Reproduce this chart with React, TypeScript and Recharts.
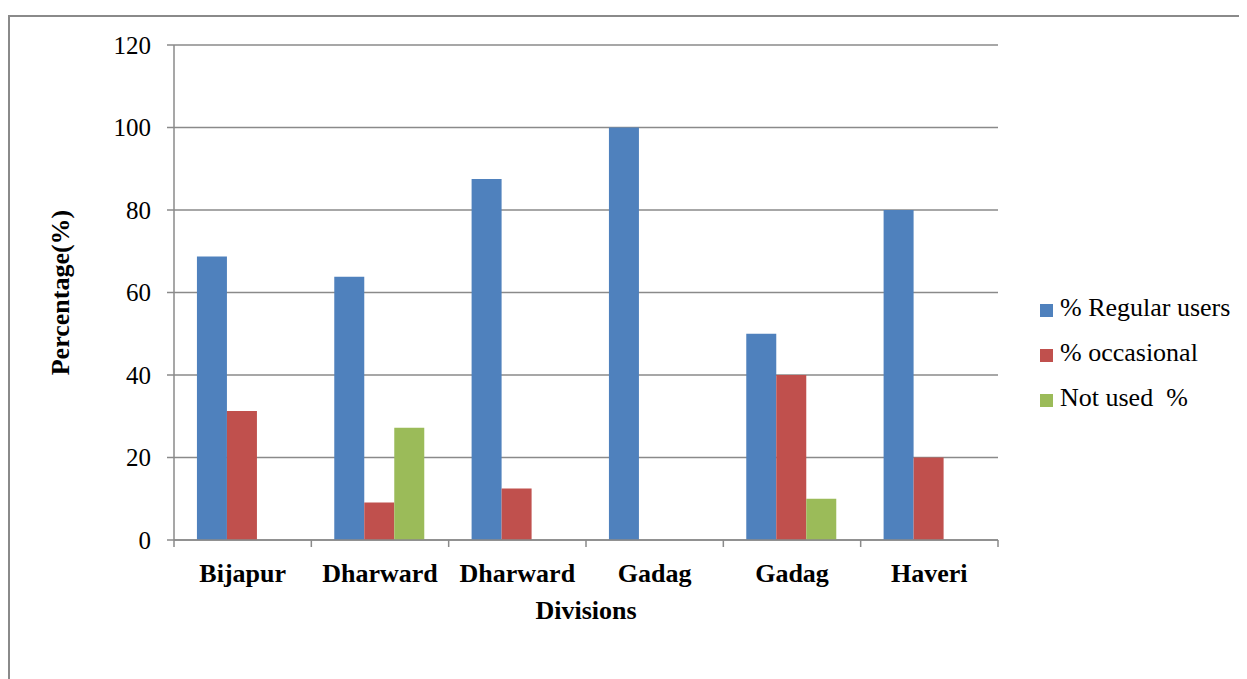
import { BarChart, Bar, XAxis, YAxis, CartesianGrid, Legend } from 'recharts'

const divisions = ['Bijapur', 'Dharward', 'Dharward', 'Gadag', 'Gadag', 'Haveri']
const regularUsers = [68.7, 63.8, 87.5, 100, 50, 80]
const occasional = [31.3, 9.1, 12.5, 0, 40, 20]
const notUsed = [0, 27.2, 0, 0, 10, 0]
const yTicks = [0, 20, 40, 60, 80, 100, 120]

const data = divisions.map((name, i) => ({
  name,
  regular: regularUsers[i],
  occasional: occasional[i],
  notUsed: notUsed[i],
}))

const W = 1239
const H = 671
const MARGIN = { top: 37, right: 249, bottom: 79, left: 106 }
const Y_AXIS_W = 60
const PLOT_W = W - MARGIN.left - MARGIN.right - Y_AXIS_W
const BAND = PLOT_W / divisions.length
const GRAY = '#8a8a8a'
const FONT = '"Liberation Serif", "Times New Roman", serif'

function DivisionTick(props: any) {
  const { x, y, payload, index } = props
  const top = y - 7
  return (
    <g>
      <line x1={x - BAND / 2} x2={x - BAND / 2} y1={top} y2={top + 7} stroke={GRAY} strokeWidth={1.5} />
      {index === divisions.length - 1 && (
        <line x1={x + BAND / 2} x2={x + BAND / 2} y1={top} y2={top + 7} stroke={GRAY} strokeWidth={1.5} />
      )}
      <text x={x} y={top + 33} dy="0.35em" textAnchor="middle" fontWeight="bold" fontSize={26}
        fontFamily={FONT} fill="#000">
        {payload.value}
      </text>
    </g>
  )
}

export default function App() {
  return (
    <div style={{ position: 'relative', width: W, height: H, overflow: 'hidden', fontFamily: FONT }}>
      <div
        style={{
          position: 'absolute', top: 7, left: 0, width: 1300, height: 720,
          border: `2px solid ${GRAY}`, boxSizing: 'border-box',
        }}
      />
      <div style={{ position: 'absolute', top: 0, left: 0 }}>
        <BarChart
          width={W}
          height={H}
          data={data}
          margin={MARGIN}
          barCategoryGap="16.7%"
          barGap={0}
          style={{ fontFamily: FONT }}
        >
          <CartesianGrid vertical={false} stroke={GRAY} strokeWidth={1.5} />
          <XAxis
            dataKey="name"
            height={60}
            interval={0}
            tickLine={false}
            tickSize={7}
            tickMargin={0}
            axisLine={{ stroke: GRAY, strokeWidth: 1.5 }}
            tick={<DivisionTick />}
            label={{
              content: (p: any) => {
                const vb = p.viewBox
                return (
                  <text x={vb.x + vb.width / 2} y={vb.y + 70} dy="0.35em" textAnchor="middle"
                    fontWeight="bold" fontSize={26} fontFamily={FONT} fill="#000">
                    Divisions
                  </text>
                )
              },
            }}
          />
          <YAxis
            width={Y_AXIS_W}
            domain={[0, 120]}
            ticks={yTicks}
            tickSize={7}
            tickMargin={16}
            tickLine={{ stroke: GRAY, strokeWidth: 1.5 }}
            axisLine={{ stroke: GRAY, strokeWidth: 1.5 }}
            tick={{ fill: '#000', fontSize: 25, fontFamily: FONT }}
            label={{
              content: (p: any) => {
                const vb = p.viewBox
                const cx = vb.x - 54
                const cy = vb.y + vb.height / 2
                return (
                  <text x={cx} y={cy} dy="0.35em" textAnchor="middle" fontWeight="bold" fontSize={26}
                    fontFamily={FONT} fill="#000" transform={`rotate(-90, ${cx}, ${cy})`}>
                    Percentage(%)
                  </text>
                )
              },
            }}
          />
          <Legend
            layout="vertical"
            align="center"
            verticalAlign="middle"
            iconType="square"
            iconSize={13}
            wrapperStyle={{
              left: 1032, top: 277, width: 'auto', lineHeight: '45px',
              fontSize: 26, fontFamily: FONT,
            }}
            formatter={v => (
              <span style={{ color: '#000', fontFamily: FONT, whiteSpace: 'pre', marginLeft: 3 }}>{v}</span>
            )}
          />
          <Bar dataKey="regular" name="% Regular users" fill="#4F81BD" isAnimationActive={false} />
          <Bar dataKey="occasional" name="% occasional" fill="#C0504D" isAnimationActive={false} />
          <Bar dataKey="notUsed" name="Not used  %" fill="#9BBB59" isAnimationActive={false} />
        </BarChart>
      </div>
    </div>
  )
}
